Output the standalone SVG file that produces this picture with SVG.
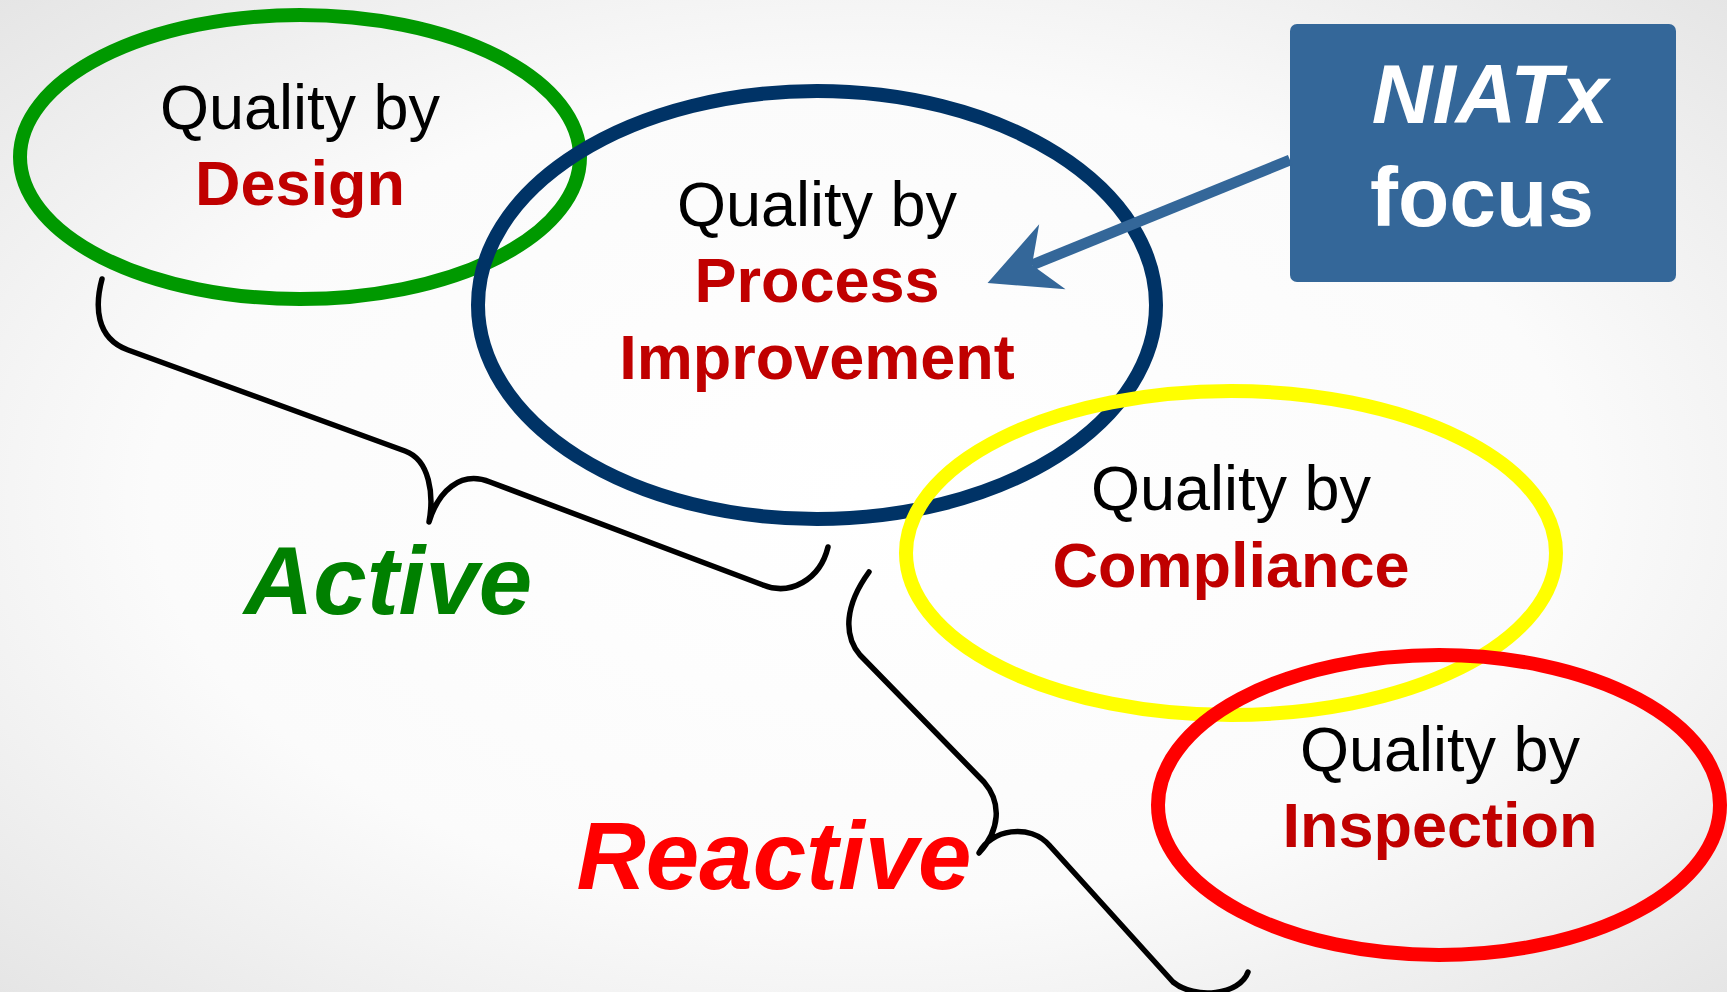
<svg xmlns="http://www.w3.org/2000/svg" width="1727" height="992" viewBox="0 0 1727 992">
  <defs>
    <radialGradient id="bg" cx="50%" cy="50%" r="75%">
      <stop offset="0" stop-color="#ffffff"/>
      <stop offset="0.55" stop-color="#fbfbfb"/>
      <stop offset="1" stop-color="#e2e2e2"/>
    </radialGradient>
    <marker id="stealth" markerUnits="userSpaceOnUse" viewBox="0 0 72 72" refX="24" refY="36" markerWidth="72" markerHeight="72" orient="auto">
      <path d="M72 36 L2 1 L24 36 L2 71 Z" fill="#346799"/>
    </marker>
    <style>
      .ring { fill: none; stroke-width: 14; }
      .lbl { font-family: "Liberation Sans", Arial, sans-serif; font-size: 63px; text-anchor: middle; }
      .plain { fill: #000000; }
      .key { fill: #c00000; font-weight: bold; }
      .big { font-family: "Liberation Sans", Arial, sans-serif; font-size: 96px; font-weight: bold; font-style: italic; text-anchor: middle; }
      .brace { fill: none; stroke: #000000; stroke-width: 5.5; stroke-linecap: round; stroke-linejoin: round; }
      .boxtxt { font-family: "Liberation Sans", Arial, sans-serif; font-size: 84px; font-weight: bold; fill: #ffffff; text-anchor: middle; }
    </style>
  </defs>

  <rect x="0" y="0" width="1727" height="992" fill="url(#bg)"/>

  <g id="design">
    <ellipse class="ring" cx="300" cy="157" rx="280" ry="142" stroke="#009900"/>
    <text class="lbl plain" x="300" y="129">Quality by</text>
    <text class="lbl key" x="300" y="205">Design</text>
  </g>

  <g id="process-improvement">
    <ellipse class="ring" cx="817" cy="305" rx="339" ry="214" stroke="#003366"/>
    <text class="lbl plain" x="817" y="226">Quality by</text>
    <text class="lbl key" x="817" y="302">Process</text>
    <text class="lbl key" x="817" y="379">Improvement</text>
  </g>

  <g id="compliance">
    <ellipse class="ring" cx="1231" cy="553" rx="325" ry="162" stroke="#ffff00"/>
    <text class="lbl plain" x="1231" y="510">Quality by</text>
    <text class="lbl key" x="1231" y="587">Compliance</text>
  </g>

  <g id="inspection">
    <ellipse class="ring" cx="1439" cy="805" rx="281" ry="150" stroke="#ff0000"/>
    <text class="lbl plain" x="1440" y="771">Quality by</text>
    <text class="lbl key" x="1440" y="847">Inspection</text>
  </g>

  <g id="niatx-focus">
    <rect x="1290" y="24" width="386" height="258" rx="7" fill="#346799"/>
    <text class="boxtxt" x="1490" y="123" font-style="italic">NIATx</text>
    <text class="boxtxt" x="1482" y="226">focus</text>
  </g>

  <g id="active">
    <text class="big" x="388" y="614" fill="#008000">Active</text>
  </g>

  <g id="reactive">
    <text class="big" x="774" y="889" fill="#ff0000">Reactive</text>
  </g>

  <g id="connectors">
    <!-- brace grouping Design and Process Improvement -->
    <path class="brace" d="M102 279 C95 305 95 338 128 350 L405 451 C430 460 434 495 429 522 C438 492 460 470 490 482 L763 585 C790 596 820 580 828 547"/>
    <!-- brace grouping Compliance and Inspection -->
    <path class="brace" d="M869 572 C845 605 843 635 860 655 L984 782 C1002 803 1000 830 979 853 C990 830 1030 822 1050 846 L1173 982 C1195 1000 1240 995 1248 972"/>
    <!-- focus arrow from the NIATx box -->
    <line x1="1290" y1="160" x2="1032" y2="265" stroke="#346799" stroke-width="11" marker-end="url(#stealth)"/>
  </g>
</svg>
